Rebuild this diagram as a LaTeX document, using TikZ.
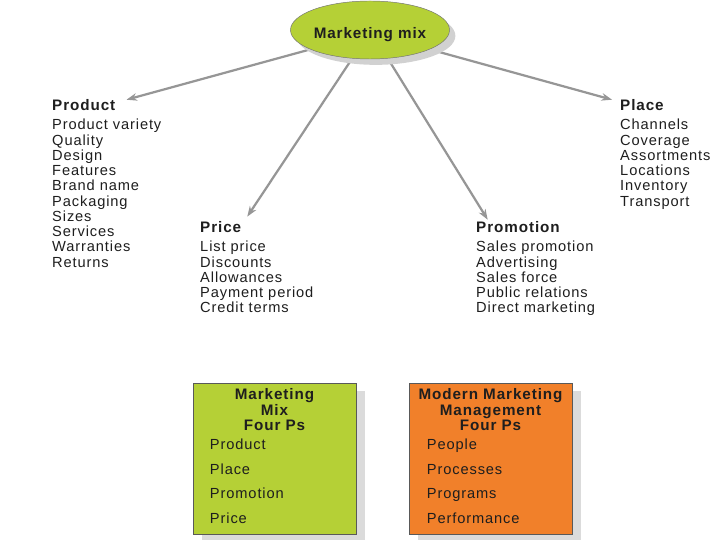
\documentclass[tikz,border=0pt]{standalone}
\usepackage{fontspec}
\setmainfont{Liberation Sans}[LetterSpace=6]
\usepackage{xcolor}
\usepackage{tikz}
\usetikzlibrary{shapes.geometric, arrows.meta, positioning, shadows, backgrounds}
\definecolor{mixgreen}{RGB}{181, 208, 54}
\definecolor{mixorange}{RGB}{241, 128, 42}
\definecolor{arrowgray}{RGB}{150, 150, 150}
\definecolor{textdark}{RGB}{30, 30, 30}

\begin{document}
\begin{tikzpicture}[
    x=0.03cm, y=0.03cm,
    hub/.style={ellipse, draw=black!55, fill=mixgreen, minimum width=4.68cm, minimum height=1.74cm, inner sep=0pt, text=textdark, font=\fontsize{13}{13}\selectfont\bfseries, drop shadow={shadow xshift=5pt, shadow yshift=-5pt, fill=black!18, opacity=1}},
    head/.style={anchor=base west, inner sep=0pt, text=textdark, font=\fontsize{13}{13}\selectfont\bfseries},
    items/.style={inner sep=0pt, align=left, text=textdark, font=\fontsize{12.5}{13}\selectfont},
    pbox/.style={rectangle, draw=black!65, minimum width=4.89cm, minimum height=4.53cm, drop shadow={shadow xshift=7.5pt, shadow yshift=-7pt, fill=black!14, opacity=1}},
    boxtitle/.style={inner sep=0pt, align=center, text=textdark, font=\fontsize{13}{13.2}\selectfont\bfseries},
    boxitems/.style={inner sep=0pt, align=left, text=textdark, font=\fontsize{12.5}{21}\selectfont},
    arrowstyle/.style={-{Stealth[length=9pt, width=6.5pt]}, line width=1.9pt, arrowgray}
]
\useasboundingbox (0,0) rectangle (720,540);

\node[hub, text height=14pt, text depth=0pt] (mix) at (370,510) {Marketing mix};

% the four Ps around the hub
\node[head] (prodH) at (52,429) {Product};
\node[items, below right=6.6pt and 0pt of prodH.south west] (prodList) {Product variety\\Quality\\Design\\Features\\Brand name\\Packaging\\Sizes\\Services\\Warranties\\Returns};
\node[head] (priceH) at (200,307) {Price};
\node[items, below right=6.6pt and 0pt of priceH.south west] (priceList) {List price\\Discounts\\Allowances\\Payment period\\Credit terms};
\node[head] (promH) at (476,307) {Promotion};
\node[items, below right=6.6pt and 0pt of promH.south west] (promList) {Sales promotion\\Advertising\\Sales force\\Public relations\\Direct marketing};
\node[head] (placeH) at (620,429) {Place};
\node[items, below right=6.6pt and 0pt of placeH.south west] (placeList) {Channels\\Coverage\\Assortments\\Locations\\Inventory\\Transport};

\begin{scope}[on background layer]
\draw[arrowstyle] (mix.-162) -- ([xshift=9.4pt]prodH.north east);
\draw[arrowstyle] (mix.-122) -- ([xshift=5pt, yshift=4.3pt]priceH.north east);
\draw[arrowstyle] (mix.-58) -- ([xshift=10pt, yshift=1.7pt]promH.north west);
\draw[arrowstyle] (mix.-18) -- ([xshift=-6.8pt]placeH.north west);
\end{scope}

% the two boxes below
\node[pbox, fill=mixgreen] (mixBox) at (274.5,81.5) {};
\node[boxtitle, below=4.8pt of mixBox.north] (mixTitle) {Marketing\\Mix\\Four Ps};
\node[boxitems, below right=47.8pt and 14.5pt of mixBox.north west] (mixList) {Product\\Place\\Promotion\\Price};
\node[pbox, fill=mixorange] (modBox) at (490.5,81.5) {};
\node[boxtitle, below=4.8pt of modBox.north] (modTitle) {Modern Marketing\\Management\\Four Ps};
\node[boxitems, below right=47.8pt and 15.3pt of modBox.north west] (modList) {People\\Processes\\Programs\\Performance};

\end{tikzpicture}
\end{document}
